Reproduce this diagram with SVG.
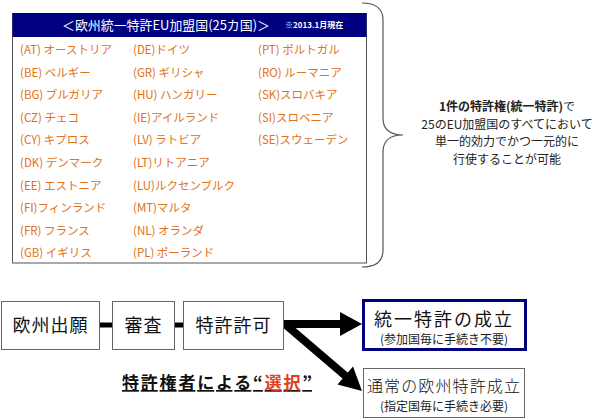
<svg xmlns="http://www.w3.org/2000/svg" width="600" height="420" viewBox="0 0 600 420">
<style>
text{font-family:"Noto Sans CJK JP","Liberation Sans",sans-serif;}
.c{font-size:11.5px;fill:#E0721A;}
.b{font-size:12px;fill:#222;text-anchor:middle;}
.box{fill:#fff;stroke:#666;stroke-width:1;}
.n{font-size:18px;fill:#111;text-anchor:middle;}
.s{font-size:12px;fill:#222;text-anchor:middle;}
.k{stroke:#000;fill:none;}
</style>
<rect width="600" height="420" fill="#fff"/>
<g id="panel">
<rect x="12.5" y="13.5" width="354" height="249.5" fill="#fff" stroke="#555" stroke-width="1"/>
<rect x="12.5" y="13" width="354" height="24" fill="#000080"/>
<text x="62" y="30" font-size="13" fill="#fff" textLength="208" lengthAdjust="spacingAndGlyphs">＜欧州統一特許EU加盟国(25カ国)＞</text>
<text x="285" y="28" font-size="8" font-weight="bold" fill="#fff">※2013.1月現在</text>
<g id="col1">
<text class="c" x="20" y="54">(AT) オーストリア</text>
<text class="c" x="20" y="76.6">(BE) ベルギー</text>
<text class="c" x="20" y="99.2">(BG) ブルガリア</text>
<text class="c" x="20" y="121.8">(CZ) チェコ</text>
<text class="c" x="20" y="144.4">(CY) キプロス</text>
<text class="c" x="20" y="167">(DK) デンマーク</text>
<text class="c" x="20" y="189.6">(EE) エストニア</text>
<text class="c" x="20" y="212.2">(FI)フィンランド</text>
<text class="c" x="20" y="234.8">(FR) フランス</text>
<text class="c" x="20" y="257.4">(GB) イギリス</text>
</g>
<g id="col2">
<text class="c" x="133" y="54">(DE)ドイツ</text>
<text class="c" x="133" y="76.6">(GR) ギリシャ</text>
<text class="c" x="133" y="99.2">(HU) ハンガリー</text>
<text class="c" x="133" y="121.8">(IE)アイルランド</text>
<text class="c" x="133" y="144.4">(LV) ラトビア</text>
<text class="c" x="133" y="167">(LT)リトアニア</text>
<text class="c" x="133" y="189.6">(LU)ルクセンブルク</text>
<text class="c" x="133" y="212.2">(MT)マルタ</text>
<text class="c" x="133" y="234.8">(NL) オランダ</text>
<text class="c" x="133" y="257.4">(PL) ポーランド</text>
</g>
<g id="col3">
<text class="c" x="258" y="54">(PT) ポルトガル</text>
<text class="c" x="258" y="76.6">(RO) ルーマニア</text>
<text class="c" x="258" y="99.2">(SK)スロバキア</text>
<text class="c" x="258" y="121.8">(SI)スロベニア</text>
<text class="c" x="258" y="144.4">(SE)スウェーデン</text>
</g>
</g>
<g id="brace">
<path d="M362,3 Q383,3 383,20 L383,118 Q383,135 403,135 Q383,135 383,152 L383,250 Q383,267 362,267" fill="none" stroke="#555" stroke-width="1.2"/>
<text class="b" x="507" y="111"><tspan font-weight="bold">1件の特許権(統一特許)</tspan>で</text>
<text class="b" x="507" y="128.5">25のEU加盟国のすべてにおいて</text>
<text class="b" x="507" y="146">単一的効力でかつ一元的に</text>
<text class="b" x="507" y="163.5">行使することが可能</text>
</g>
<g id="connectors">
<line class="k" x1="100" y1="325" x2="112" y2="325" stroke-width="5"/>
<line class="k" x1="175" y1="325" x2="183" y2="325" stroke-width="5"/>
<line class="k" x1="284" y1="324" x2="344" y2="324" stroke-width="8"/>
<polygon points="340,312 362,324 340,336" fill="#000"/>
<line class="k" x1="286" y1="325" x2="348" y2="378" stroke-width="8"/>
<polygon points="337.5,384.5 362,391 353,366.5" fill="#000"/>
</g>
<g id="n1">
<rect class="box" x="1.5" y="301.5" width="98" height="48"/>
<text class="n" x="50.5" y="332" letter-spacing="1">欧州出願</text>
</g>
<g id="n2">
<rect class="box" x="112.5" y="301.5" width="62" height="48"/>
<text class="n" x="143.5" y="332" letter-spacing="1">審査</text>
</g>
<g id="n3">
<rect class="box" x="183.5" y="301.5" width="100" height="48"/>
<text class="n" x="233.5" y="332" letter-spacing="1">特許許可</text>
</g>
<g id="n4">
<rect x="363.5" y="300.5" width="162" height="49" fill="#fff" stroke="#000080" stroke-width="3"/>
<text class="n" x="444" y="326" font-size="17.5" letter-spacing="2">統一特許の成立</text>
<text class="s" x="444" y="344">(参加国毎に手続き不要)</text>
</g>
<g id="n5">
<rect class="box" x="363.5" y="368.5" width="161" height="49"/>
<text x="367" y="392" font-size="16" font-weight="300" fill="#111" textLength="153" lengthAdjust="spacing">通常の欧州特許成立</text>
<text class="s" x="444" y="411">(指定国毎に手続き必要)</text>
</g>
<g id="choice">
<text x="122" y="389" font-size="17" font-weight="bold" fill="#111" text-decoration="underline" textLength="190" lengthAdjust="spacing">特許権者による“<tspan fill="#E0401A">選択</tspan>”</text>
</g>
</svg>
